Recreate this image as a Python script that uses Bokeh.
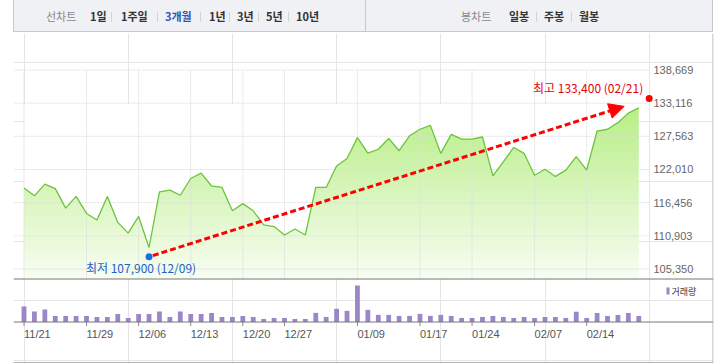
import numpy as np
from bokeh.plotting import figure
from bokeh.models import Range1d, Div, Arrow, NormalHead, Span
from bokeh.layouts import column
from bokeh.core.properties import value
from bokeh.embed import file_html
from bokeh.resources import INLINE

# ---------------- data ----------------
close = [118900, 117600, 119550, 118800, 115550, 117500, 114650, 113550, 117500, 113150,
         111350, 114150, 108950, 118250, 118550, 117700, 120500, 121400, 119250, 119000,
         115100, 116300, 115100, 112750, 112450, 111050, 112050, 111050, 119000, 119000,
         122600, 123850, 127350, 124750, 125400, 127200, 125150, 127650, 128750, 129400,
         124700, 127900, 127100, 127100, 127450, 120950, 123300, 125700, 124700, 121050,
         122050, 120850, 121900, 124150, 121900, 128450, 128750, 129850, 131450, 132350]
volume = [765000, 515000, 615000, 300000, 300000, 300000, 300000, 250000, 250000, 400000,
          200000, 400000, 400000, 515000, 250000, 515000, 400000, 400000, 450000, 250000,
          250000, 300000, 250000, 150000, 200000, 200000, 150000, 150000, 450000, 250000,
          650000, 550000, 1800000, 600000, 350000, 350000, 300000, 300000, 400000, 300000,
          350000, 300000, 200000, 200000, 250000, 300000, 250000, 200000, 250000, 200000,
          250000, 250000, 200000, 500000, 200000, 450000, 300000, 350000, 450000, 300000]
price_ticks = [105350, 110903, 116456, 122010, 127563, 133116, 138669]
price_tick_labels = ["105,350", "110,903", "116,456", "122,010", "127,563", "133,116", "138,669"]
date_tick_index = [0, 6, 11, 16, 21, 25, 32, 38, 43, 49, 54]
date_tick_labels = ["11/21", "11/29", "12/06", "12/13", "12/20", "12/27",
                    "01/09", "01/17", "01/24", "02/07", "02/14"]
low_value = 107900
low_label = "최저 107,900 (12/09)"
high_value = 133400
high_label = "최고 133,400 (02/21)"
legend_label = "거래량"

n = len(close)
idx = list(range(n))

# ---------------- layout helpers (page pixels) ----------------
X0, DX = 23.5, 10.42          # pixel of index 0, pixels per index
FRAME_L, FRAME_R = 13, 713
FIG_TOP, FIG_BOT = 33, 363
P_TOP_PX, P_BOT_PX = 69.5, 268.5
k = (P_BOT_PX - P_TOP_PX) / (price_ticks[-1] - price_ticks[0])
VBASE, VTOP = 321.5, 285.0
kv = (VBASE - VTOP) / max(volume)

def px2x(xp):
    return (xp - X0) / DX

def x2px(x):
    return X0 + DX * x

def px2p(yp):
    return price_ticks[0] + (P_BOT_PX - yp) / k

def p2px(v):
    return P_BOT_PX - (v - price_ticks[0]) * k

def px2v(yp):
    return (VBASE - yp) / kv

# ---------------- tab bar ----------------
tabs = [("선차트", 46, "#888888", "normal"), ("1일", 90, "#333333", "bold"),
        ("1주일", 121, "#333333", "bold"), ("3개월", 165, "#2f55b8", "bold"),
        ("1년", 209, "#333333", "bold"), ("3년", 237, "#333333", "bold"),
        ("5년", 266, "#333333", "bold"), ("10년", 296, "#333333", "bold"),
        ("봉차트", 461, "#888888", "normal"), ("일봉", 509, "#333333", "bold"),
        ("주봉", 544, "#333333", "bold"), ("월봉", 579, "#333333", "bold")]
seps = [111, 157, 200, 229, 258, 288, 536, 571]
html = ["<div style=\"position:relative;width:716px;height:33px;font-family:'Noto Sans CJK KR';font-size:11px;\">",
        "<div style='position:absolute;left:13px;top:-1px;width:700px;height:33px;box-sizing:border-box;"
        "background:#f0f1f5;border:1px solid #c8c8c8;'></div>",
        "<div style='position:absolute;left:365px;top:0px;width:1px;height:32px;background:#c8c8c8;'></div>"]
for t, x, c, w in tabs:
    html.append(f"<span style='position:absolute;left:{x}px;top:8px;line-height:17px;color:{c};"
                f"font-weight:{w};white-space:nowrap;'>{t}</span>")
for x in seps:
    html.append(f"<div style='position:absolute;left:{x}px;top:12px;width:1px;height:10px;background:#d3d3d3;'></div>")
html.append("</div>")
tab_div = Div(text="".join(html), width=716, height=33, margin=0)

# ---------------- chart ----------------
xs = px2x(FRAME_L)
xe = px2x(FRAME_R)
p = figure(width=716, height=FIG_BOT - FIG_TOP,
           x_range=Range1d(xs, xe), y_range=Range1d(px2p(FIG_BOT), px2p(FIG_TOP)),
           x_axis_location=None, y_axis_location=None,
           toolbar_location=None, output_backend="svg",
           min_border_left=FRAME_L, min_border_right=716 - FRAME_R,
           min_border_top=0, min_border_bottom=0, margin=0,
           outline_line_color=None, background_fill_color="white", border_fill_color="white")
p.extra_y_ranges = {"vol": Range1d(px2v(FIG_BOT), px2v(FIG_TOP))}

area_base = px2p(278.5)
top = max(close)

# gradient fill under the line
N = 256
t = np.linspace(0.0, 1.0, N)
c_bot = np.array([248, 253, 242])
c_top = np.array([184, 238, 136])
img = np.empty((N, 1), dtype=np.uint32)
view = img.view(dtype=np.uint8).reshape((N, 1, 4))
for ch in range(3):
    view[:, 0, ch] = np.round(c_bot[ch] + (c_top[ch] - c_bot[ch]) * t).astype(np.uint8)
view[:, 0, 3] = 255
p.image_rgba(image=[img], x=0, y=area_base, dw=n - 1, dh=top - area_base)
# white mask above the line
p.varea(x=idx, y1=close, y2=[px2p(p2px(top) - 4)] * n, fill_color="white")

# grid lines
p.segment(x0=[xs] * len(price_ticks), x1=[n] * len(price_ticks), y0=price_ticks, y1=price_ticks,
          line_color="#dddddd", line_alpha=0.6, line_width=1)
p.segment(x0=date_tick_index, x1=date_tick_index, y0=[area_base] * len(date_tick_index),
          y1=[price_ticks[-1]] * len(date_tick_index), line_color="#dddddd", line_alpha=0.6, line_width=1)

# price line
p.line(idx, close, line_color="#6cc43c", line_width=1.3)

# price labels
p.text(x=[px2x(653)] * len(price_ticks), y=price_ticks, text=price_tick_labels,
       text_font=value("Liberation Sans"), text_font_size="11px", text_color="#666666",
       text_baseline="middle", text_align="left")

# volume bars
bar_color = "#9b86c8"
p.vbar(x=idx, width=0.46, top=volume, bottom=0, y_range_name="vol",
       fill_color=bar_color, line_color=None)
p.segment(x0=date_tick_index, x1=date_tick_index, y0=[0] * len(date_tick_index),
          y1=[px2v(325.5)] * len(date_tick_index), y_range_name="vol", line_color="#888888")
p.text(x=date_tick_index, y=[px2v(333)] * len(date_tick_index), text=date_tick_labels,
       y_range_name="vol", text_font=value("Liberation Sans"), text_font_size="11px",
       text_color="#555555", text_baseline="middle", text_align="left")

# legend
p.quad(left=[px2x(666)], right=[px2x(669)], top=[px2v(287)], bottom=[px2v(294)],
       y_range_name="vol", fill_color=bar_color, line_color=None)
p.text(x=[px2x(671)], y=[px2v(291)], text=[legend_label], y_range_name="vol",
       text_font=value("Noto Sans CJK KR"), text_font_size="9px", text_color="#333333",
       text_baseline="middle", text_align="left")

# frame lines
p.add_layout(Span(location=px2p(278.5), dimension="width", line_color="#777777", line_width=1))
p.add_layout(Span(location=0, dimension="width", line_color="#777777", line_width=1, y_range_name="vol"))
p.add_layout(Span(location=px2v(362.5), dimension="width", line_color="#666666", line_width=1, y_range_name="vol"))
p.add_layout(Span(location=px2x(712.5), dimension="height", line_color="#b0b0b0", line_width=1))

# low / high markers
lo_i = int(np.argmin(close))
hi_i = int(np.argmax(close))
lo_xp, lo_yp = x2px(lo_i), p2px(low_value) + 3
hi_xp, hi_yp = x2px(hi_i + 1), p2px(high_value) - 3

dxp, dyp = hi_xp - lo_xp, hi_yp - lo_yp
L = (dxp ** 2 + dyp ** 2) ** 0.5
sx, sy = lo_xp + 4 * dxp / L, lo_yp + 4 * dyp / L
ex, ey = lo_xp + 0.95 * dxp, lo_yp + 0.95 * dyp
p.add_layout(Arrow(end=NormalHead(size=15, fill_color="#ff0000", line_color="#ff0000"),
                   x_start=px2x(sx), y_start=px2p(sy), x_end=px2x(ex), y_end=px2p(ey),
                   line_color="#ff0000", line_width=3, line_dash="6 3"))

p.scatter(x=[px2x(lo_xp)], y=[px2p(lo_yp)], size=7, fill_color="#1a6ee0", line_color=None)
p.scatter(x=[px2x(hi_xp)], y=[px2p(hi_yp)], size=7, fill_color="#ff0000", line_color=None)

p.text(x=[px2x(lo_xp - 8)], y=[px2p(lo_yp + 11)], text=[low_label],
       text_font=value("Noto Sans CJK KR"), text_font_size="12px", text_color="#1f5fc8",
       text_baseline="middle", text_align="center")
p.text(x=[px2x(hi_xp - 6)], y=[px2p(hi_yp - 11)], text=[high_label],
       text_font=value("Noto Sans CJK KR"), text_font_size="12px", text_color="#e8000b",
       text_baseline="middle", text_align="right")

layout = column(tab_div, p, margin=0, spacing=0)
open("out.html", "w").write(file_html(layout, INLINE))
